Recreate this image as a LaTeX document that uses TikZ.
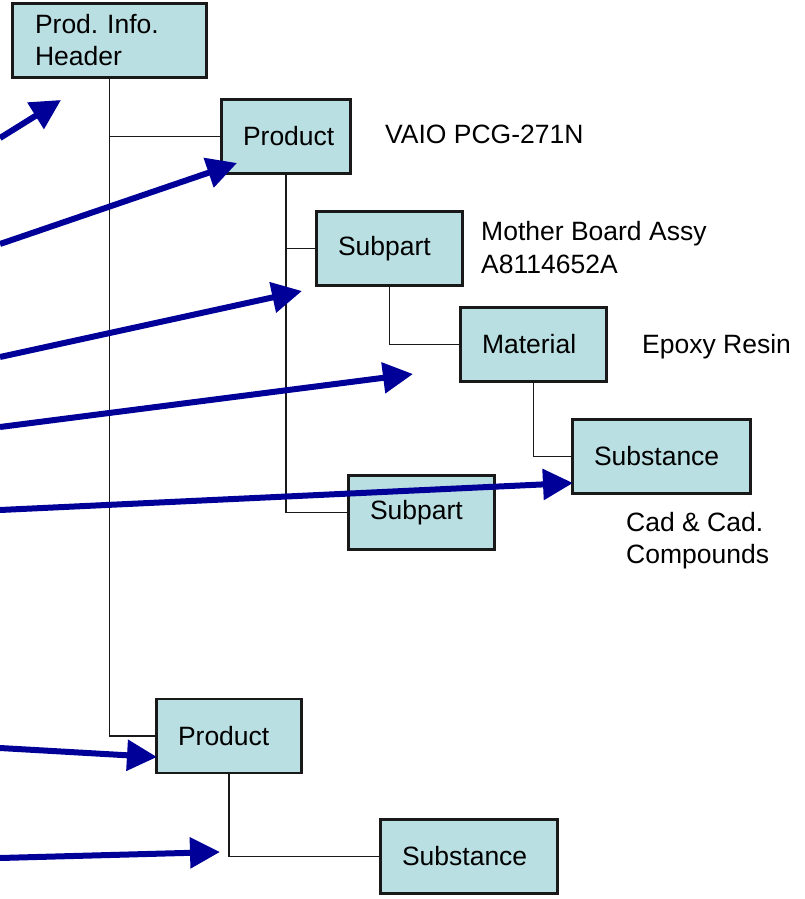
\documentclass[tikz,border=0pt]{standalone}
\usepackage{fontspec}
\setmainfont{Liberation Sans}
\usetikzlibrary{arrows.meta}
\definecolor{boxfill}{RGB}{185,223,226}
\definecolor{arrowblue}{RGB}{0,0,153}
\frenchspacing
\begin{document}
\begin{tikzpicture}[x=1pt,y=-1pt,
  every node/.style={font=\fontsize{26.5}{32}\selectfont},
  boxbase/.style={draw=black!90, line width=1.6pt, fill=boxfill, rectangle,
    inner sep=0pt, minimum height=73pt},
  item/.style={boxbase, text width=#1, align=left,
    execute at begin node=\hspace*{21pt}},
  note/.style={anchor=base west, inner sep=0pt, align=left},
  link/.style={line width=1.8pt, black!90},
  pointer/.style={line width=6pt, arrowblue,
    -{Triangle[length=30pt,width=30pt]}}]
\useasboundingbox (0,0) rectangle (804,899);

% tree of boxes
\node[boxbase, minimum width=193pt, text width=149pt, inner xsep=22pt, align=left]
  (hdr) at (109.5,40.5) {Prod. Info.\\Header};
\node[item=128pt] (prod1)  at (286,136.5)   {Product};
\node[item=145pt] (sub1)   at (389.5,248.5) {Subpart};
\node[item=145pt] (mat)    at (533.5,344.5) {Material};
\node[item=177pt] (subst1) at (661.5,456.5) {Substance};
\node[item=145pt] (sub2)   at (421.5,512.5) {Subpart};
\node[item=144pt] (prod2)  at (229,736)     {Product};
\node[item=176pt] (subst2) at (469,856.5)   {Substance};

% side notes (base = last line)
\node[note] (n1) at (385,143) {VAIO PCG-271N};
\node[note] (n2) at (481,273) {Mother Board Assy\\[1pt]A8114652A};
\node[note] (n3) at (642,353) {Epoxy Resin};
\node[note] (n4) at (626,563) {Cad \& Cad.\\Compounds};

% connectors of the tree
\draw[link] (hdr.south) |- (prod1.west);
\draw[link] (hdr.south) |- (prod2.west);
\draw[link] (prod1.south) |- (sub1.west);
\draw[link] (prod1.south) |- (sub2.west);
\draw[link] (sub1.south) |- (mat.west);
\draw[link] (mat.south) |- (subst1.west);
\draw[link] (prod2.south) |- (subst2.west);

% redraw box outlines over the connector ends
\foreach \b in {hdr,prod1,sub1,mat,subst1,sub2,prod2,subst2}
  \draw[line width=1.6pt, black!90] (\b.north west) rectangle (\b.south east);

% pointers coming in from the left
\coordinate (s1) at (0,138);  \coordinate (t1) at (61,100);
\coordinate (s2) at (0,244);  \coordinate (t2) at (237,163);
\coordinate (s3) at (0,357);  \coordinate (t3) at (302,291);
\coordinate (s4) at (0,427);  \coordinate (t4) at (413,374);
\coordinate (s5) at (0,510);  \coordinate (t5) at (573,483);
\coordinate (s6) at (0,748);  \coordinate (t6) at (157,757);
\coordinate (s7) at (0,858);  \coordinate (t7) at (220,852);
\foreach \i in {1,...,7}
  \draw[pointer] (s\i) -- (t\i);
\end{tikzpicture}
\end{document}
